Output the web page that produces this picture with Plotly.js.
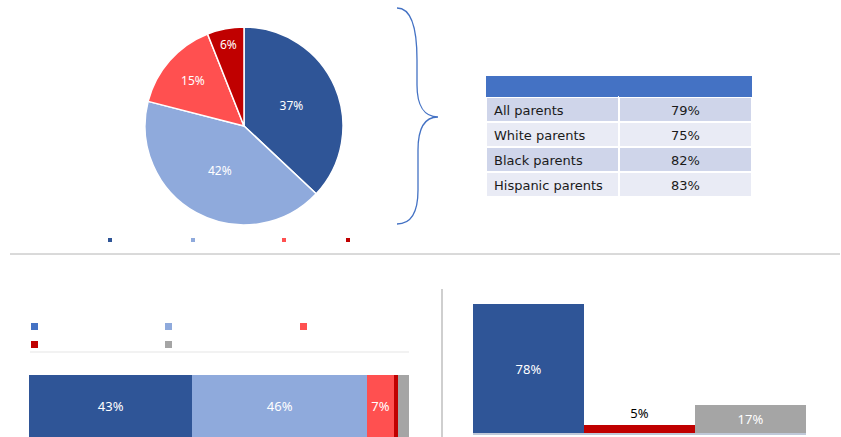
<!DOCTYPE html>
<html><head><meta charset="utf-8">
<script src="https://cdn.plot.ly/plotly-3.0.1.min.js"></script>
<style>html,body{margin:0;padding:0;background:#fff}#c{width:841px;height:437px}</style>
</head><body><div id="c"></div>
<script>
// ---- data ----
var pieLabels = ["Segment A", "Segment B", "Segment C", "Segment D"];
var pieValues = [37, 42, 15, 6];
var pieColors = ["#2F5597", "#8FAADC", "#FF5050", "#C00000"];

var tableGroups = ["All parents", "White parents", "Black parents", "Hispanic parents"];
var tableValues = ["79%", "75%", "82%", "83%"];

var stackNames = ["S1", "S2", "S3", "S4", "S5"];
var stackValues = [43, 46, 7, 1, 3];
var stackColors = ["#2F5597", "#8FAADC", "#FF5050", "#C00000", "#A5A5A5"];
var stackLegendColors = ["#4472C4", "#8FAADC", "#FF5050", "#C00000", "#A5A5A5"];

var colCats = ["C1", "C2", "C3"];
var colValues = [78, 5, 17];
var colColors = ["#2F5597", "#C00000", "#A5A5A5"];
var colTextColors = ["#FFFFFF", "#000000", "#FFFFFF"];

// ---- helpers ----
var W = 841, H = 437;
function px(x) { return x / W; }
function py(y) { return 1 - y / H; }

var traces = [];

// pie
traces.push({
  type: "pie", values: pieValues, labels: pieLabels, sort: false, direction: "clockwise", rotation: 0,
  marker: { colors: pieColors, line: { color: "#FFFFFF", width: 1.5 } },
  texttemplate: "%{value}%", textposition: "inside", insidetextorientation: "horizontal",
  textfont: { color: "#FFFFFF", size: 12, family: "Noto Sans" },
  domain: { x: [px(145), px(343)], y: [py(225), py(27)] },
  hoverinfo: "none", showlegend: false
});

// table
var fillCol = ["#CFD5EA", "#E9EBF5", "#CFD5EA", "#E9EBF5"];
traces.push({
  type: "table",
  domain: { x: [px(486), px(752)], y: [py(201), py(76)] },
  columnwidth: [133, 133],
  header: { values: ["", ""], fill: { color: "#4472C4" }, height: 21, line: { color: "#4472C4", width: 0 } },
  cells: {
    values: [tableGroups, tableValues],
    align: ["left", "center"],
    fill: { color: [fillCol, fillCol] },
    line: { color: "#FFFFFF", width: 2 },
    height: 25,
    font: { family: "DejaVu Sans", size: 13, color: "#1a1a1a" }
  }
});

// stacked horizontal bar
for (var i = 0; i < stackValues.length; i++) {
  traces.push({
    type: "bar", orientation: "h", x: [stackValues[i]], y: ["row"], name: stackNames[i],
    marker: { color: stackColors[i], line: { width: 0 } },
    text: [stackValues[i] >= 5 ? stackValues[i] + "%" : ""], textposition: "inside", insidetextanchor: "middle",
    textfont: { color: "#FFFFFF", size: 13, family: "Noto Sans" },
    xaxis: "x2", yaxis: "y2", hoverinfo: "none", showlegend: false, cliponaxis: false
  });
}

// column bars
traces.push({
  type: "bar", x: colCats, y: colValues,
  marker: { color: colColors, line: { width: 0 } },
  text: colValues.map(function (v) { return v + "%"; }),
  textposition: ["inside", "outside", "inside"], insidetextanchor: "middle",
  textfont: { color: colTextColors, size: 13, family: "Noto Sans" },
  outsidetextfont: { color: "#000000", size: 13, family: "Noto Sans" },
  xaxis: "x3", yaxis: "y3", hoverinfo: "none", showlegend: false, cliponaxis: false
});

// ---- shapes (decoration) ----
var shapes = [];
// brace
function P(x, y) { return px(x) + "," + py(y); }
var brace = "M" + P(397, 8) +
  " C" + P(410, 8) + " " + P(417, 25) + " " + P(417, 60) +
  " L" + P(417, 85) +
  " C" + P(417, 105) + " " + P(424, 117) + " " + P(438, 117) +
  " C" + P(424, 117) + " " + P(418, 129) + " " + P(418, 150) +
  " L" + P(418, 190) +
  " C" + P(418, 215) + " " + P(410, 224) + " " + P(397, 224);
shapes.push({ type: "path", path: brace, xref: "paper", yref: "paper", line: { color: "#4472C4", width: 1.3 } });
// separators
shapes.push({ type: "line", xref: "paper", yref: "paper", x0: px(10), x1: px(840), y0: py(254), y1: py(254), line: { color: "#B4B4B4", width: 1 } });
shapes.push({ type: "line", xref: "paper", yref: "paper", x0: px(442), x1: px(442), y0: py(289), y1: py(437), line: { color: "#BFBFBF", width: 1.5 } });
shapes.push({ type: "line", xref: "paper", yref: "paper", x0: px(30), x1: px(409), y0: py(352), y1: py(352), line: { color: "#F2F2F2", width: 2 } });
// pie legend keys
var pieKeyX = [110, 193, 284, 348];
for (var k = 0; k < pieColors.length; k++) {
  shapes.push({ type: "rect", xref: "paper", yref: "paper", x0: px(pieKeyX[k] - 2), x1: px(pieKeyX[k] + 2), y0: py(242), y1: py(238), fillcolor: pieColors[k], line: { width: 0 } });
}
// stacked legend keys
var stKeyX = [31, 165, 300, 31, 165];
var stKeyY = [323, 323, 323, 341, 341];
for (var m = 0; m < stackLegendColors.length; m++) {
  shapes.push({ type: "rect", xref: "paper", yref: "paper", x0: px(stKeyX[m]), x1: px(stKeyX[m] + 7), y0: py(stKeyY[m] + 7), y1: py(stKeyY[m]), fillcolor: stackLegendColors[m], line: { width: 0 } });
}

var layout = {
  width: W, height: H, margin: { l: 0, r: 0, t: 0, b: 0 },
  paper_bgcolor: "#FFFFFF", plot_bgcolor: "rgba(0,0,0,0)",
  barmode: "stack", bargap: 0, showlegend: false,
  font: { family: "Noto Sans" },
  xaxis2: { domain: [px(29), px(409)], range: [0, 100], visible: false, anchor: "y2", fixedrange: true },
  yaxis2: { domain: [0, py(375)], visible: false, anchor: "x2", fixedrange: true },
  xaxis3: { domain: [px(473), px(806)], anchor: "y3", showticklabels: false, ticks: "", showgrid: false, zeroline: false,
            showline: true, linecolor: "#BFC8D8", linewidth: 2, fixedrange: true },
  yaxis3: { domain: [py(433), py(268)], range: [0, 100], visible: false, anchor: "x3", fixedrange: true },
  shapes: shapes
};

Plotly.newPlot("c", traces, layout, { displayModeBar: false, staticPlot: true });
</script>
</body></html>
